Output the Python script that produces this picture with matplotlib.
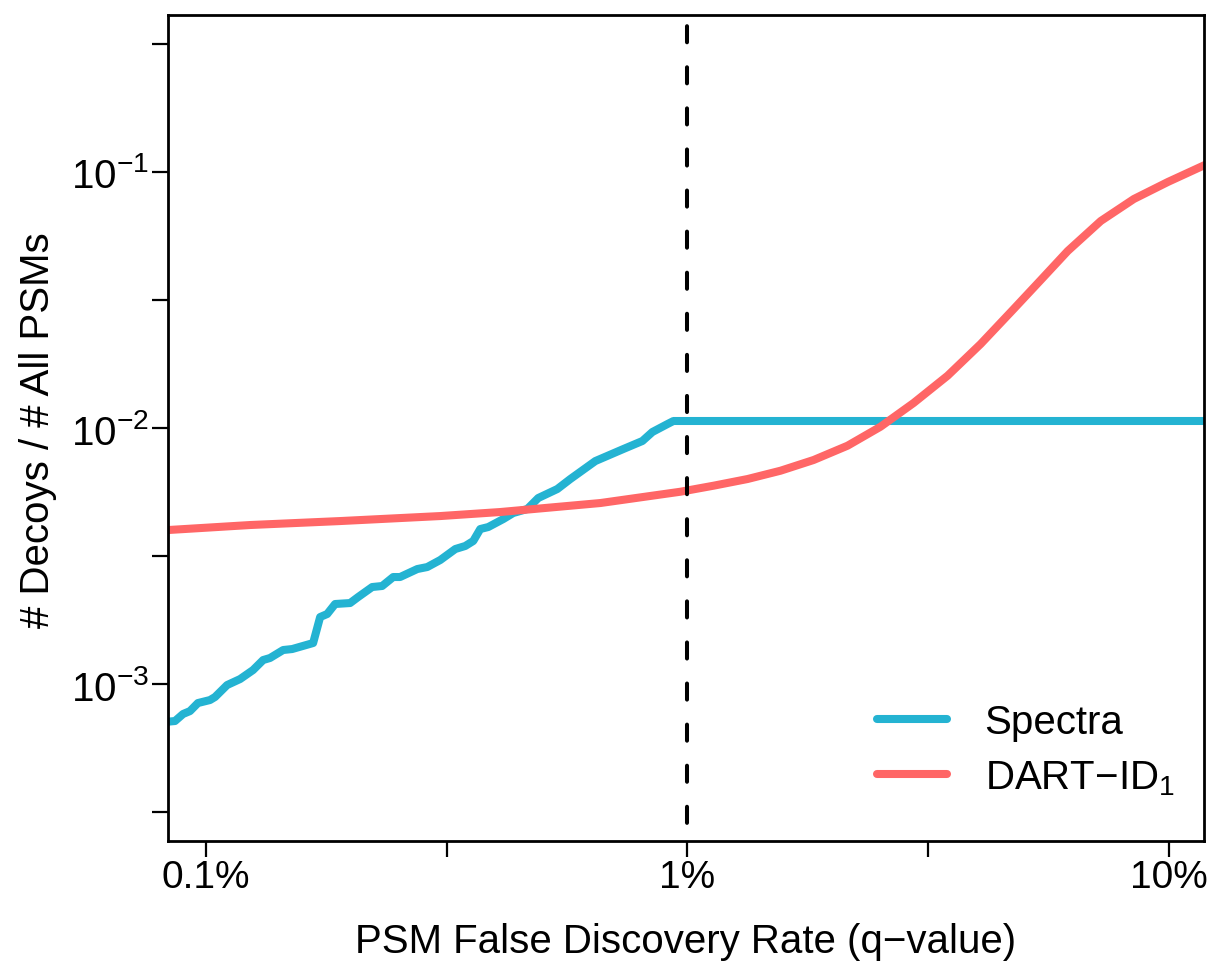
import matplotlib
matplotlib.use("Agg")
import matplotlib.pyplot as plt

plt.rcParams['font.family'] = ['Liberation Sans', 'DejaVu Sans']
plt.rcParams['mathtext.fontset'] = 'custom'
plt.rcParams['mathtext.rm'] = 'Liberation Sans'
plt.rcParams['mathtext.it'] = 'Liberation Sans:italic'

# q-value (fraction) vs fraction of decoys
spectra_q = [0.000834, 0.000862, 0.000896, 0.000926, 0.000962, 0.001019, 0.001044,
             0.001106, 0.001177, 0.001252, 0.001314, 0.001358, 0.001446, 0.001510,
             0.001669, 0.001726, 0.001785, 0.001854, 0.001992, 0.002070, 0.002214,
             0.002322, 0.002448, 0.002530, 0.002747, 0.002881, 0.003066, 0.003295,
             0.003455, 0.003590, 0.003712, 0.003857, 0.004144, 0.004347, 0.004649,
             0.004899, 0.005366, 0.005711, 0.006438, 0.007361, 0.008061, 0.008457,
             0.009087, 0.009352, 0.1188]
spectra_frac = [0.000713, 0.000717, 0.000764, 0.000784, 0.000843, 0.000866, 0.000890,
                0.000991, 0.001046, 0.001134, 0.001241, 0.001264, 0.001358, 0.001370,
                0.001446, 0.001827, 0.001877, 0.002054, 0.002072, 0.002187, 0.002393,
                0.002415, 0.002618, 0.002618, 0.002813, 0.002864, 0.003051, 0.003368,
                0.003461, 0.003620, 0.004031, 0.004104, 0.004409, 0.004656, 0.004827,
                0.005328, 0.005776, 0.006320, 0.007429, 0.008279, 0.008897, 0.009647,
                0.01036, 0.01065, 0.01065]

dart_q = [0.000834, 0.001235, 0.001900, 0.003066, 0.004085, 0.006594, 0.009670,
          0.011326, 0.013330, 0.015607, 0.018281, 0.021508, 0.025183, 0.029496,
          0.034710, 0.040649, 0.047610, 0.054200, 0.061660, 0.072218, 0.084578,
          0.099517, 0.1188]
dart_frac = [0.003995, 0.004179, 0.004331, 0.004530, 0.004697, 0.005093, 0.005638,
             0.005951, 0.006320, 0.006810, 0.007499, 0.008529, 0.010118, 0.012524,
             0.016007, 0.021285, 0.029163, 0.037852, 0.049134, 0.064356, 0.078413,
             0.091378, 0.106487]

x_ticks = [0.001, 10 ** -2.5, 0.01, 10 ** -1.5, 0.1]
x_labels = ['0.1%', '', '1%', '', '10%']
y_ticks = [10 ** -3.5, 0.001, 10 ** -2.5, 0.01, 10 ** -1.5, 0.1, 10 ** -0.5]
y_labels = ['', r'$10^{-3}$', '', r'$10^{-2}$', '', r'$10^{-1}$', '']

col_spectra = '#24B3D2'
col_dart = '#FF6666'

fig = plt.figure(figsize=(12.1, 9.62), dpi=100)
ax = fig.add_axes([168 / 1210, 1 - 842 / 962, (1204 - 168) / 1210, (842 - 16) / 962])

ax.plot(spectra_q, spectra_frac, color=col_spectra, lw=5.8, label='Spectra',
        solid_capstyle='round', solid_joinstyle='round')
ax.plot(dart_q, dart_frac, color=col_dart, lw=5.8, label='DART\u2212ID$_1$',
        solid_capstyle='round', solid_joinstyle='round')
ax.axvline(0.01, color='black', lw=2.9, linestyle=(5.7, (4.0, 6.2)),
           dash_capstyle='round')

ax.set_xscale('log')
ax.set_yscale('log')
ax.set_xlim(10 ** -3.079, 10 ** -0.927)
ax.set_ylim(10 ** -3.613, 10 ** -0.387)
ax.minorticks_off()
ax.set_xticks(x_ticks)
ax.set_xticklabels(x_labels)
ax.set_yticks(y_ticks)
ax.set_yticklabels(y_labels)
ax.tick_params(axis='both', length=11.5, width=1.6, labelsize=28)
ax.tick_params(axis='x', pad=1.5)
ax.tick_params(axis='y', labelsize=29, pad=2)

for s in ax.spines.values():
    s.set_linewidth(2.0)

fig.text(686 / 1210, 1 - 942 / 962, 'PSM False Discovery Rate (q\u2212value)',
         ha='center', va='center', fontsize=29)
fig.text(38 / 1210, 1 - 430 / 962, '# Decoys / # All PSMs', rotation=90,
         ha='center', va='center', fontsize=29)

ax.legend(loc='center left', bbox_to_anchor=((877 - 168) / 1036, 1 - (751 - 16) / 826),
          frameon=False, fontsize=29, handlelength=1.75, handletextpad=0.92,
          labelspacing=0.42, borderpad=0, borderaxespad=0)

fig.savefig('out.png', dpi=100)
